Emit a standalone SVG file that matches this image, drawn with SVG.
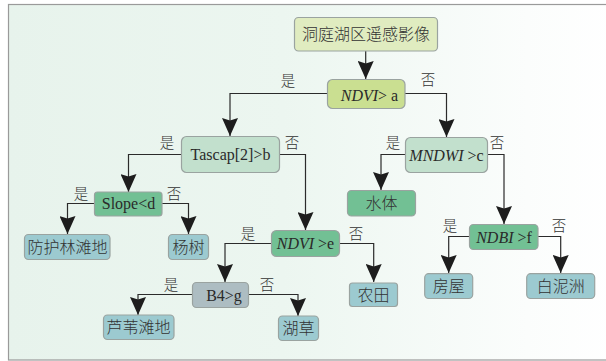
<svg xmlns="http://www.w3.org/2000/svg" width="606" height="361" viewBox="0 0 606 361">
<style>
.n{stroke-width:1.2;stroke:#9aa3a0}
.c{fill:none;stroke:#2b2b2b;stroke-width:1.2;marker-end:url(#a)}
.t{font-family:"Liberation Serif","Noto Sans CJK SC",serif;font-size:16px;fill:#2a2a2a;text-anchor:middle}
.z{font-family:"Noto Sans CJK SC",sans-serif;font-weight:300;font-size:16px;fill:#333;text-anchor:middle}
.l{font-family:"Noto Sans CJK SC",sans-serif;font-weight:300;font-size:14.5px;fill:#333;text-anchor:middle}
.i{font-style:italic}
.g1{fill:#e0ecc0}.g2{fill:#cadf91}.g3{fill:#c2e0cd}.g4{fill:#72c094}.b{fill:#9ccad0}.s{fill:#adbdc2}
</style>
<defs>
<linearGradient id="bg" x1="0" x2="1" y1="0" y2="0"><stop offset="0" stop-color="#e7f3ec"/><stop offset="0.45" stop-color="#ecf6f0"/><stop offset="0.85" stop-color="#fbfdfc"/><stop offset="1" stop-color="#fff"/></linearGradient>
<marker id="a" markerUnits="userSpaceOnUse" markerWidth="18" markerHeight="16" refX="18" refY="8" orient="auto" viewBox="0 0 18 16"><path d="M0 0L2.5 8 0 16 18 8Z" fill="#1d1d1d"/></marker>
</defs>
<rect id="frame" x="8.5" y="4.5" width="610" height="355.5" fill="url(#bg)" stroke="#9a9a9a" stroke-width="1.2"/>
<g id="connectors">
<path d="M365.7 51V79" class="c"/>
<path d="M327 93.5H230V136" class="c"/>
<path d="M405 93.5H446.5V137" class="c"/>
<path d="M181 154.5H128.5V192" class="c"/>
<path d="M279 154.5H305.5V230" class="c"/>
<path d="M405 154.5H381V190" class="c"/>
<path d="M487 154.5H504V224" class="c"/>
<path d="M94 203.5H67.5V234" class="c"/>
<path d="M162 203.5H188.5V234" class="c"/>
<path d="M271 243.5H225V282" class="c"/>
<path d="M339 243.5H373.7V282" class="c"/>
<path d="M192 294.5H138V315" class="c"/>
<path d="M248 294.5H298V316" class="c"/>
<path d="M469 236.5H448.7V273" class="c"/>
<path d="M538 236.5H560.7V273" class="c"/>
</g>
<g id="edge-labels">
<text class="l" x="288" y="86">是</text><text class="l" x="428" y="85">否</text>
<text class="l" x="167" y="148">是</text><text class="l" x="292" y="148">否</text>
<text class="l" x="393" y="148">是</text><text class="l" x="497" y="148">否</text>
<text class="l" x="81" y="199">是</text><text class="l" x="174" y="199">否</text>
<text class="l" x="248" y="239">是</text><text class="l" x="356" y="239">否</text>
<text class="l" x="171" y="290">是</text><text class="l" x="267" y="290">否</text>
<text class="l" x="450" y="231">是</text><text class="l" x="559" y="231">否</text>
</g>
<g id="root"><rect class="n g1" x="294.5" y="17.5" width="143" height="33.5" rx="4"/><text class="z" x="366" y="40">洞庭湖区遥感影像</text></g>
<g id="ndvi-a"><rect class="n g2" x="327.5" y="79.5" width="77.5" height="29" rx="5"/><text class="t" x="369.5" y="101"><tspan class="i">NDVI</tspan>&gt; a</text></g>
<g id="tascap"><rect class="n g3" x="181.5" y="136.5" width="98" height="36" rx="5"/><text class="t" x="230.5" y="160">Tascap[2]&gt;b</text></g>
<g id="mndwi"><rect class="n g3" x="405.5" y="137.5" width="82" height="35" rx="5"/><text class="t" x="446.5" y="160.5"><tspan class="i">MNDWI</tspan> &gt;c</text></g>
<g id="slope"><rect class="n g4" x="94.5" y="192" width="67.5" height="24" rx="3"/><text class="t" x="128.5" y="209">Slope&lt;d</text></g>
<g id="fanghulin"><rect class="n b" x="24.5" y="234.5" width="85.5" height="25" rx="4"/><text class="z" x="67.5" y="253">防护林滩地</text></g>
<g id="yangshu"><rect class="n b" x="168.5" y="234.5" width="40" height="25" rx="4"/><text class="z" x="188.5" y="253">杨树</text></g>
<g id="ndvi-e"><rect class="n g4" x="271.5" y="230.5" width="68" height="26" rx="5"/><text class="t" x="305.5" y="249"><tspan class="i">NDVI</tspan> &gt;e</text></g>
<g id="b4"><rect class="n s" x="192.5" y="282.5" width="56" height="25" rx="4"/><text class="t" x="224" y="301">B4&gt;g</text></g>
<g id="luwei"><rect class="n b" x="103.5" y="315" width="70.5" height="24.5" rx="4"/><text class="z" x="138.5" y="333">芦苇滩地</text></g>
<g id="hucao"><rect class="n b" x="278.5" y="316" width="40" height="24.5" rx="4"/><text class="z" x="298.5" y="334">湖草</text></g>
<g id="nongtian"><rect class="n b" x="349.5" y="283" width="48" height="23.5" rx="3"/><text class="z" x="373.5" y="300.5">农田</text></g>
<g id="shuiti"><rect class="n g4" x="347.5" y="190.5" width="68" height="25.5" rx="4"/><text class="z" x="381.5" y="209">水体</text></g>
<g id="ndbi"><rect class="n g4" x="469.5" y="224.5" width="68.5" height="25" rx="4"/><text class="t" x="504" y="242.5"><tspan class="i">NDBI</tspan> &gt;f</text></g>
<g id="fangwu"><rect class="n b" x="424.7" y="273.7" width="48" height="24.8" rx="4"/><text class="z" x="448.7" y="292">房屋</text></g>
<g id="bainizhou"><rect class="n b" x="526.7" y="273.7" width="68" height="24.8" rx="4"/><text class="z" x="560.7" y="292">白泥洲</text></g>
</svg>
